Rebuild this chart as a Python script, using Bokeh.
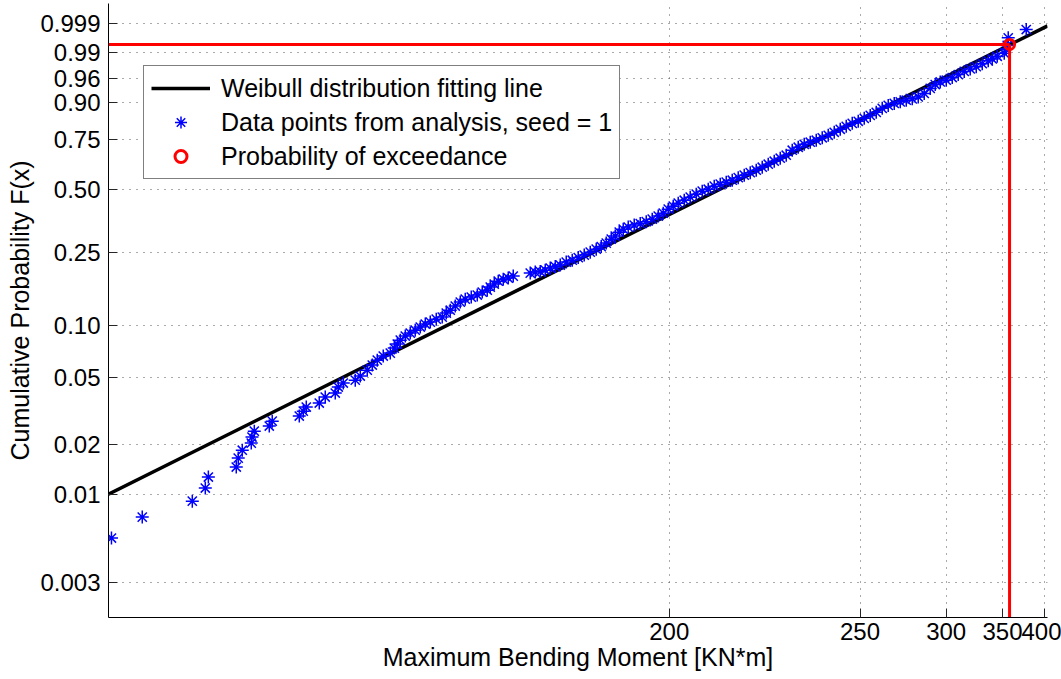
import numpy as np
from bokeh.plotting import figure
from bokeh.models import FixedTicker, Range1d, Legend, LegendItem
from bokeh.embed import file_html
from bokeh.resources import INLINE

# Sorted maximum bending moments [kN*m] from the analysis runs (seed = 1)
moment = [
    177.786, 177.947, 178.282, 178.387, 178.413, 178.673, 178.693, 178.735, 178.832, 178.840,
    178.866, 179.043, 179.080, 179.450, 179.510, 179.556, 179.765, 179.867, 180.046, 180.102,
    180.198, 180.438, 180.544, 180.697, 180.811, 180.928, 181.073, 181.250, 181.354, 181.434,
    181.515, 181.654, 181.796, 181.943, 182.096, 182.253, 182.414, 182.614, 182.821, 182.964,
    183.110, 183.298, 183.492, 183.691, 183.939, 184.196, 184.416, 184.644, 184.784, 184.975,
    185.170, 185.422, 185.680, 185.947, 186.916, 187.221, 187.535, 187.859, 188.193, 188.537,
    188.891, 189.331, 189.787, 190.260, 190.750, 191.258, 191.785, 192.240, 192.708, 193.191,
    193.588, 193.994, 194.410, 194.945, 195.609, 196.298, 197.012, 197.752, 198.519, 199.180,
    199.862, 200.564, 201.288, 202.187, 203.118, 204.084, 205.086, 206.125, 207.203, 208.320,
    209.479, 210.679, 211.925, 213.217, 214.557, 215.946, 217.387, 218.881, 220.430, 222.036,
    223.702, 225.430, 227.221, 229.079, 231.005, 233.003, 235.074, 237.222, 239.449, 241.759,
    244.154, 246.638, 249.214, 251.885, 254.654, 257.526, 260.505, 263.594, 266.796, 270.118,
    273.562, 277.134, 280.838, 284.676, 288.660, 292.091, 295.630, 300.018, 304.565, 309.284,
    314.182, 319.250, 324.512, 329.971, 335.629, 339.516, 344.511, 351.761, 353.890, 354.964,
    356.044, 376.652,
]

# Empirical cumulative probability of each moment
prob = [
    0.00551, 0.00736, 0.00917, 0.01098, 0.01278, 0.01466, 0.01658, 0.01848, 0.02038, 0.02213,
    0.02400, 0.02573, 0.02751, 0.02950, 0.03154, 0.03335, 0.03521, 0.03821, 0.04033, 0.04375,
    0.04619, 0.04801, 0.05078, 0.05494, 0.05889, 0.06284, 0.06644, 0.06913, 0.07388, 0.07797,
    0.08206, 0.08670, 0.09017, 0.09365, 0.09760, 0.10154, 0.10417, 0.10829, 0.11126, 0.11720,
    0.12166, 0.12836, 0.13507, 0.14031, 0.14408, 0.14786, 0.15352, 0.15729, 0.16364, 0.16998,
    0.17633, 0.18081, 0.18317, 0.18790, 0.19500, 0.19737, 0.19855, 0.20210, 0.20736, 0.21130,
    0.21524, 0.22312, 0.22838, 0.23567, 0.24295, 0.25169, 0.26074, 0.26878, 0.28003, 0.29320,
    0.30376, 0.31783, 0.32870, 0.33635, 0.34401, 0.34975, 0.35741, 0.36728, 0.37965, 0.39203,
    0.40882, 0.42206, 0.43529, 0.44853, 0.46253, 0.47654, 0.49054, 0.50009, 0.51473, 0.52449,
    0.53425, 0.54401, 0.55655, 0.56910, 0.58164, 0.59418, 0.60945, 0.62471, 0.63998, 0.65520,
    0.67039, 0.69571, 0.71049, 0.72528, 0.73513, 0.74499, 0.75670, 0.76841, 0.78245, 0.79615,
    0.80914, 0.82214, 0.83080, 0.84288, 0.85450, 0.86611, 0.88055, 0.89058, 0.89726, 0.90228,
    0.90729, 0.91143, 0.91694, 0.92660, 0.93921, 0.94790, 0.95332, 0.95658, 0.96144, 0.96629,
    0.97115, 0.97446, 0.97728, 0.98067, 0.98349, 0.98515, 0.98735, 0.98955, 0.99204, 0.99378,
    0.99646, 0.99822,
]

# Fitted three-parameter Weibull distribution
weib_loc = 177.0
weib_shape = 1.1411
weib_scale = 43.14

# Design value on the fitted line
exceed_moment = 357.5
exceed_prob = 0.9942

# Axis limits and ticks
moment_lim = (177.772, 404.1)
prob_lim = (0.001836, 0.999886)
x_ticks = [200, 250, 300, 350, 400]
p_ticks = [0.003, 0.01, 0.02, 0.05, 0.10, 0.25, 0.50, 0.75, 0.90, 0.96, 0.99, 0.999]
p_tick_labels = ["0.003", "0.01", "0.02", "0.05", "0.10", "0.25", "0.50", "0.75",
                 "0.90", "0.96", "0.99", "0.999"]


def xt(m):
    """Weibull paper abscissa: log of the moment above the location."""
    return np.log(np.asarray(m, dtype=float) - weib_loc)


def yt(F):
    """Weibull paper ordinate: log(-log(1 - F))."""
    return np.log(-np.log(1.0 - np.asarray(F, dtype=float)))


u_lo, u_hi = (float(v) for v in xt(moment_lim))
v_lo, v_hi = (float(v) for v in yt(prob_lim))

FONT = "Liberation Sans"

p = figure(width=1061, height=679, output_backend="svg", toolbar_location=None,
           x_range=Range1d(u_lo, u_hi), y_range=Range1d(v_lo, v_hi),
           min_border_left=108, min_border_right=14, min_border_top=3,
           min_border_bottom=62)
p.outline_line_color = None
p.background_fill_color = "white"
p.border_fill_color = "white"

# Ticks placed in transformed coordinates, labelled with the physical values
xtick_pos = [round(float(v), 6) for v in xt(x_ticks)]
ytick_pos = [round(float(v), 6) for v in yt(p_ticks)]
xticker = FixedTicker(ticks=xtick_pos)
yticker = FixedTicker(ticks=ytick_pos)

p.xaxis.ticker = xticker
p.yaxis.ticker = yticker
p.xaxis.major_label_overrides = {t: str(v) for t, v in zip(xtick_pos, x_ticks)}
p.yaxis.major_label_overrides = {t: s for t, s in zip(ytick_pos, p_tick_labels)}
p.xgrid.ticker = xticker
p.ygrid.ticker = yticker

p.xaxis.axis_label = "Maximum Bending Moment [KN*m]"
p.yaxis.axis_label = "Cumulative Probability F(x)"

for ax in (p.xaxis[0], p.yaxis[0]):
    ax.major_tick_in = 9
    ax.major_tick_out = 0
    ax.minor_tick_in = 0
    ax.minor_tick_out = 0
    ax.major_tick_line_color = "#262626"
    ax.axis_line_color = "black"
    ax.axis_line_width = 1
    ax.major_label_text_font = FONT
    ax.major_label_text_font_size = "24px"
    ax.major_label_text_color = "black"
    ax.axis_label_text_font = FONT
    ax.axis_label_text_font_size = "25px"
    ax.axis_label_text_font_style = "normal"
    ax.axis_label_text_color = "black"

p.xaxis.major_label_standoff = 5
p.xaxis.axis_label_standoff = 0
p.yaxis.major_label_standoff = 8
p.yaxis.axis_label_standoff = 3

p.grid.grid_line_color = "#555555"
p.grid.grid_line_width = 1
p.grid.grid_line_dash = "1 6"

# Fitted Weibull line across the full abscissa
u_fit = np.array([u_lo, u_hi])
v_fit = weib_shape * (u_fit - np.log(weib_scale))
fit = p.line(u_fit, v_fit, line_color="black", line_width=3.5)

pts = p.scatter(xt(moment), yt(prob), marker="asterisk", size=13,
                line_color="#0000ff", line_width=1.5)

u_ex = float(xt(exceed_moment))
v_ex = float(yt(exceed_prob))
p.line([u_lo, u_ex], [v_ex, v_ex], line_color="#ff0000", line_width=3)
p.line([u_ex, u_ex], [v_lo, v_ex], line_color="#ff0000", line_width=3)
ring = p.scatter([u_ex], [v_ex], marker="circle", size=10, fill_color=None,
                 line_color="#ff0000", line_width=3)

legend = Legend(items=[
    LegendItem(label="Weibull distribution fitting line", renderers=[fit]),
    LegendItem(label="Data points from analysis, seed = 1", renderers=[pts]),
    LegendItem(label="Probability of exceedance", renderers=[ring]),
], location=(35, 438))
legend.border_line_color = "black"
legend.border_line_width = 1
legend.background_fill_color = "white"
legend.background_fill_alpha = 1
legend.padding = 7
legend.spacing = 4
legend.margin = 0
legend.label_height = 30
legend.glyph_height = 30
legend.glyph_width = 59
legend.label_standoff = 11
legend.label_text_font = FONT
legend.label_text_font_size = "25px"
legend.label_text_color = "black"
p.add_layout(legend)

open("out.html", "w").write(file_html(p, INLINE))
